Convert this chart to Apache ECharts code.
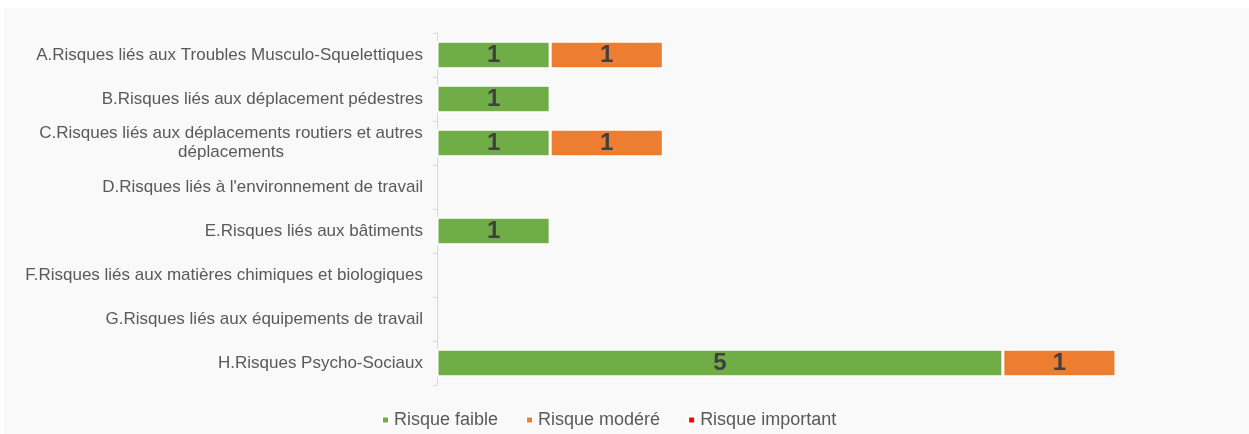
<!DOCTYPE html>
<html><head><meta charset="utf-8">
<script src="https://cdn.jsdelivr.net/npm/echarts@6/dist/echarts.min.js"></script>
<style>
html,body{margin:0;padding:0;background:#fff;}
#bg{position:absolute;left:4px;top:8px;width:1245px;height:426px;background:#f9f9f9;}
#c{position:absolute;left:0;top:0;width:1249px;height:434px;}
</style></head>
<body><div id="bg"></div><div id="c"></div>
<script>
const categories = [
  "A.Risques liés aux Troubles Musculo-Squelettiques",
  "B.Risques liés aux déplacement pédestres",
  "C.Risques liés aux déplacements routiers et autres\ndéplacements",
  "D.Risques liés à l'environnement de travail",
  "E.Risques liés aux bâtiments",
  "F.Risques liés aux matières chimiques et biologiques",
  "G.Risques liés aux équipements de travail",
  "H.Risques Psycho-Sociaux"
];
const seriesNames = ["Risque faible", "Risque modéré", "Risque important"];
const faible = [1, 1, 1, null, 1, null, null, 5];
const modere = [1, null, 1, null, null, null, null, 1];
const important = [null, null, null, null, null, null, null, null];
const colors = ["#70AD47", "#ED7D31", "#FF0000"];

const font = 'Liberation Sans, Arial, sans-serif';
const catSize = 17;
const cv = document.createElement('canvas').getContext('2d');
cv.font = catSize + 'px ' + font;
function widest(v) {
  return Math.ceil(Math.max.apply(null, v.split('\n').map(function (s) { return cv.measureText(s).width; })));
}

const chart = echarts.init(document.getElementById('c'), null, {renderer: 'canvas'});
function mk(name, data, color) {
  return {
    name: name, type: 'bar', stack: 'total', data: data, barWidth: 27.5,
    itemStyle: {color: color, borderColor: '#ffffff', borderWidth: 1.5},
    label: {show: true, position: 'inside', fontFamily: font, fontSize: 24, fontWeight: 'bold', color: '#404040'}
  };
}
const rich = {};
categories.forEach(function (v, i) {
  if (v.indexOf('\n') >= 0) {
    rich['c' + i] = {width: widest(v), align: 'center', fontFamily: font, fontSize: catSize, color: '#595959', lineHeight: 19};
  }
});
chart.setOption({
  backgroundColor: 'transparent',
  animation: false,
  color: colors,
  grid: {left: 437, right: 133, top: 33, bottom: 49, containLabel: false},
  xAxis: {type: 'value', min: 0, max: 6, show: false},
  yAxis: {
    type: 'category', data: categories, inverse: true,
    axisLine: {show: true, lineStyle: {color: '#d9d9d9', width: 1}},
    axisTick: {show: true, length: 4, lineStyle: {color: '#d9d9d9'}},
    axisLabel: {
      margin: 14, fontFamily: font, fontSize: catSize, color: '#595959', lineHeight: 19,
      formatter: function (v, i) {
        if (v.indexOf('\n') >= 0) {
          return v.split('\n').map(function (s) { return '{c' + i + '|' + s + '}'; }).join('\n');
        }
        return v;
      },
      rich: rich
    }
  },
  legend: {
    data: seriesNames, left: 381, bottom: 5, padding: 0, icon: 'rect', itemWidth: 7, itemHeight: 7,
    itemGap: 27, textStyle: {fontFamily: font, fontSize: 18, color: '#595959'}
  },
  series: [mk(seriesNames[0], faible, colors[0]), mk(seriesNames[1], modere, colors[1]), mk(seriesNames[2], important, colors[2])]
});
</script></body></html>
